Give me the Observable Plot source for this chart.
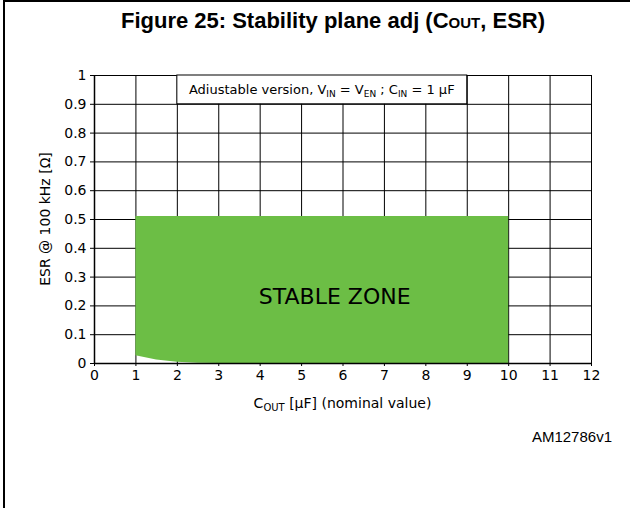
<!DOCTYPE html>
<html><head><meta charset="utf-8">
<script src="https://cdn.jsdelivr.net/npm/d3@7"></script>
<script src="https://cdn.jsdelivr.net/npm/@observablehq/plot@0.6"></script>
<style>
body{margin:0;background:#fff;}
#wrap{position:relative;width:630px;height:508px;overflow:hidden;background:#fff;}
#frame{position:absolute;left:3px;top:0;width:700px;height:600px;border-left:2px solid #000;border-top:2px solid #000;box-sizing:border-box;}
#title{position:absolute;left:0;width:666px;top:8px;text-align:center;font:bold 22px "Liberation Sans",Arial,sans-serif;color:#000;white-space:nowrap;}
#title .sub{font-size:15px;}
#caption{position:absolute;right:18px;top:428px;font:15px "Liberation Sans",Arial,sans-serif;color:#000;}
#chart{position:absolute;left:0;top:0;}
</style>
</head><body>
<div id="wrap">
  <div id="frame"></div>
  <div id="chart"></div>
  <div id="title">Figure 25: Stability plane adj (C<span class="sub">OUT</span>, ESR)</div>
  <div id="caption">AM12786v1</div>
</div>
<script>
// ---- data ----
const xTicks = [0,1,2,3,4,5,6,7,8,9,10,11,12];
const yTicks = [0,0.1,0.2,0.3,0.4,0.5,0.6,0.7,0.8,0.9,1];
const gridXValues = [1,2,3,4,5,6,7,8,9,10,11,12];
const gridYValues = [0.1,0.2,0.3,0.4,0.5,0.6,0.7,0.8,0.9,1];
// stable zone boundary (C_OUT in µF, ESR in Ω)
const zoneCout = [1, 1.5, 2, 2.5, 3, 10];
const zoneEsrLow = [0.027, 0.012, 0.004, 0.001, 0, 0];
const zoneEsrHigh = [0.51, 0.51, 0.51, 0.51, 0.51, 0.51];
const zoneLabel = "STABLE ZONE";
const legendBox = {x1: 2, x2: 9, y1: 0.9, y2: 1};

const zone = zoneCout.map((c, i) => ({c, lo: zoneEsrLow[i], hi: zoneEsrHigh[i]}));

const FONT = '"DejaVu Sans", Verdana, sans-serif';
const W = 630, H = 508;

const plot = Plot.plot({
  width: W, height: H,
  marginLeft: 94, marginRight: 39, marginTop: 75, marginBottom: 145,
  style: {fontFamily: FONT, fontSize: "13px", color: "#000", background: "transparent", overflow: "visible"},
  x: {domain: [0, 12]},
  y: {domain: [0, 1]},
  marks: [
    Plot.ruleX(gridXValues, {stroke: "#000", strokeWidth: 1}),
    Plot.ruleY(gridYValues, {stroke: "#000", strokeWidth: 1}),
    Plot.areaY(zone, {x: "c", y1: "lo", y2: "hi", fill: "#6cbe45"}),
    Plot.rect([legendBox], {x1: "x1", x2: "x2", y1: "y1", y2: "y2", fill: "#fff", stroke: "#000", strokeWidth: 1}),
    Plot.ruleX([0], {stroke: "#000", strokeWidth: 1.5}),
    Plot.ruleY([0], {stroke: "#000", strokeWidth: 1.5}),
    Plot.axisX({ticks: xTicks, tickSize: 3, tickPadding: 4, tickFormat: d => String(d), label: null, fontSize: 14}),
    Plot.axisY({ticks: yTicks, tickSize: 4, tickPadding: 4, tickFormat: d => String(d), label: null, fontSize: 14}),
    Plot.text([zoneLabel], {x: 5.8, y: 0.23, text: d => d, fontSize: 22, fill: "#000", fontFamily: FONT})
  ]
});
document.getElementById("chart").appendChild(plot);

const sx = plot.scale("x").apply, sy = plot.scale("y").apply;
const svg = d3.select(plot);

// legend box text with subscripts
const lt = svg.append("text")
  .attr("x", sx((legendBox.x1 + legendBox.x2) / 2))
  .attr("y", sy((legendBox.y1 + legendBox.y2) / 2))
  .attr("dy", "0.35em")
  .attr("text-anchor", "middle")
  .attr("font-family", FONT).attr("font-size", 13).attr("fill", "#000");
const parts = [["Adiustable version, V", 0], ["IN", 1], [" = V", 0], ["EN", 1], [" ; C", 0], ["IN", 1], [" = 1 µF", 0]];
parts.forEach(([t, s]) => {
  const ts = lt.append("tspan").text(t);
  if (s) ts.attr("font-size", 9).attr("baseline-shift", "-3");
});

// x-axis label
const xl = svg.append("text")
  .attr("x", sx(6)).attr("y", sy(0) + 45)
  .attr("text-anchor", "middle")
  .attr("font-family", FONT).attr("font-size", 14).attr("fill", "#000");
xl.append("tspan").text("C");
xl.append("tspan").text("OUT").attr("font-size", 10).attr("baseline-shift", "-3");
xl.append("tspan").text(" [µF] (nominal value)");

// y-axis label
svg.append("text")
  .attr("transform", `translate(50,${(sy(0) + sy(1)) / 2}) rotate(-90)`)
  .attr("text-anchor", "middle")
  .attr("font-family", FONT).attr("font-size", 14).attr("fill", "#000")
  .text("ESR @ 100 kHz [Ω]");
</script>
</body></html>
